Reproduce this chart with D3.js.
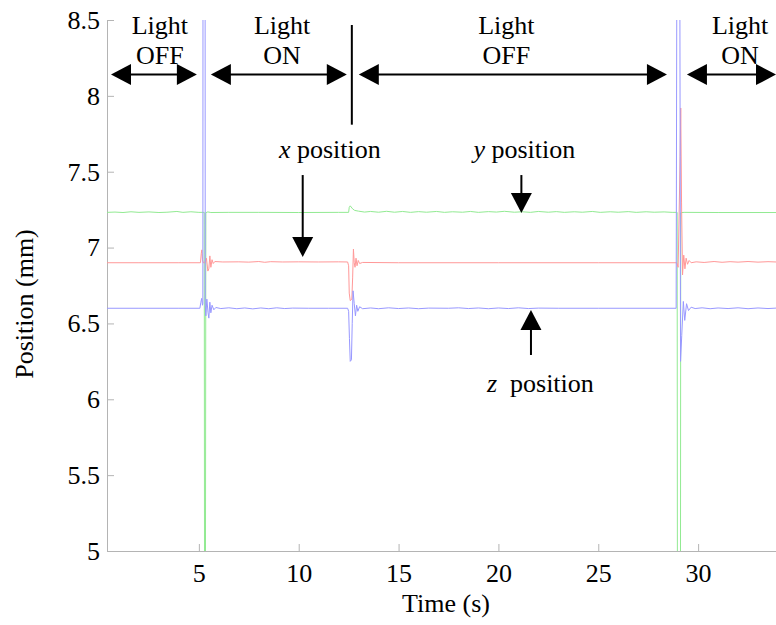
<!DOCTYPE html>
<html>
<head>
<meta charset="utf-8">
<script src="https://cdn.jsdelivr.net/npm/d3@7"></script>
<style>
    body { margin: 0; background: #fff; }
    svg text { font-family: "Liberation Serif", "Times New Roman", serif; fill: #000; }
</style>
</head>
<body>
<div id="chart"></div>
<script>
// readings: [time (s), position (mm)]
const xPosition = [
    [0.4, 6.900], [2.0, 6.900], [4.0, 6.900], [5.08, 6.900], [5.12, 6.96], [5.15, 6.985], [5.18, 6.92],
    [5.22, 6.90], [5.3, 6.90], [5.38, 6.93], [5.45, 6.845], [5.5, 6.86], [5.55, 6.945], [5.6, 6.87],
    [5.66, 6.92], [5.72, 6.895], [5.8, 6.908], [6.2, 6.905], [7.0, 6.906], [7.5, 6.904], [8.0, 6.908],
    [8.3, 6.903], [8.6, 6.907], [9.2, 6.905], [10.0, 6.906], [11.0, 6.905], [12.0, 6.906], [12.45, 6.905],
    [12.5, 6.88], [12.53, 6.70], [12.58, 6.65], [12.66, 6.66], [12.7, 6.80], [12.74, 6.99], [12.78, 6.90],
    [12.82, 6.87], [12.87, 6.93], [12.92, 6.88], [12.98, 6.915], [13.05, 6.895], [13.2, 6.902], [15.0, 6.900],
    [20.0, 6.900], [25.0, 6.900], [28.93, 6.900], [29.0, 6.87], [29.1, 7.6], [29.13, 7.92], [29.17, 7.3],
    [29.22, 6.82], [29.28, 6.95], [29.34, 6.86], [29.4, 6.93], [29.47, 6.89], [29.55, 6.915], [29.65, 6.90],
    [29.9, 6.906], [30.3, 6.902], [30.8, 6.908], [31.2, 6.903], [31.6, 6.907], [32.0, 6.904], [32.5, 6.908],
    [33.0, 6.904], [33.5, 6.907], [33.9, 6.905]
];

const yPosition = [
    [0.4, 7.232], [0.8, 7.234], [1.2, 7.231], [1.6, 7.236], [2.0, 7.232], [2.5, 7.235], [3.0, 7.231],
    [3.4, 7.233], [3.9, 7.238], [4.2, 7.232], [4.6, 7.236], [5.0, 7.232], [5.27, 7.232], [5.29, 3.5],
    [5.32, 3.5], [5.35, 7.23], [5.45, 7.235], [5.6, 7.231], [6.5, 7.232], [8.0, 7.232], [10.0, 7.231],
    [12.0, 7.232], [12.5, 7.232], [12.53, 7.265], [12.58, 7.275], [12.7, 7.255], [12.8, 7.245], [13.0, 7.24],
    [13.3, 7.234], [13.6, 7.238], [14.0, 7.233], [14.4, 7.239], [14.8, 7.233], [15.2, 7.238], [15.6, 7.232],
    [16.0, 7.237], [16.4, 7.233], [16.9, 7.238], [17.3, 7.232], [17.7, 7.236], [18.2, 7.233], [18.6, 7.238],
    [19.0, 7.232], [19.5, 7.237], [19.9, 7.234], [20.3, 7.239], [20.8, 7.233], [21.2, 7.236], [21.6, 7.232],
    [22.0, 7.238], [22.5, 7.233], [22.9, 7.237], [23.3, 7.232], [23.8, 7.236], [24.2, 7.233], [24.7, 7.238],
    [25.1, 7.232], [25.6, 7.236], [26.0, 7.233], [26.5, 7.237], [26.9, 7.232], [27.4, 7.236], [27.8, 7.233],
    [28.3, 7.235], [28.7, 7.232], [28.95, 7.232], [28.97, 3.5], [29.11, 3.5], [29.13, 7.23], [29.3, 7.232],
    [31.0, 7.231], [33.9, 7.231]
];

const zPosition = [
    [0.4, 6.600], [2.0, 6.600], [4.0, 6.600], [5.05, 6.600], [5.1, 6.64], [5.14, 6.665], [5.18, 6.62],
    [5.2, 6.63], [5.21, 9.8], [5.31, 9.8], [5.32, 6.62], [5.35, 6.55], [5.4, 6.66], [5.46, 6.57],
    [5.5, 6.535], [5.55, 6.64], [5.6, 6.57], [5.66, 6.62], [5.75, 6.59], [5.85, 6.605], [6.1, 6.598],
    [6.5, 6.603], [6.9, 6.597], [7.3, 6.602], [7.7, 6.596], [8.1, 6.602], [8.5, 6.597], [8.9, 6.603],
    [9.3, 6.598], [9.7, 6.601], [10.5, 6.600], [11.5, 6.600], [12.45, 6.600], [12.5, 6.58], [12.54, 6.40],
    [12.58, 6.25], [12.64, 6.26], [12.68, 6.5], [12.72, 6.715], [12.78, 6.63], [12.84, 6.55], [12.9, 6.62],
    [12.96, 6.58], [13.05, 6.61], [13.2, 6.597], [13.6, 6.602], [14.0, 6.597], [14.5, 6.603], [15.0, 6.598],
    [15.5, 6.602], [16.0, 6.597], [16.5, 6.601], [17.5, 6.600], [18.0, 6.603], [18.5, 6.598], [19.0, 6.602],
    [19.5, 6.597], [20.0, 6.602], [20.5, 6.598], [21.0, 6.603], [21.5, 6.598], [22.0, 6.601], [23.0, 6.600],
    [25.0, 6.600], [28.9, 6.600], [28.95, 9.8], [29.07, 9.8], [29.12, 6.25], [29.18, 6.42], [29.26, 6.645],
    [29.33, 6.52], [29.42, 6.63], [29.52, 6.585], [29.65, 6.607], [29.85, 6.598], [30.2, 6.603], [30.6, 6.597],
    [31.0, 6.602], [31.5, 6.598], [32.0, 6.603], [32.5, 6.597], [33.0, 6.602], [33.5, 6.598], [33.9, 6.601]
];

const xTicks = [5, 10, 15, 20, 25, 30];
const yTicks = [5, 5.5, 6, 6.5, 7, 7.5, 8, 8.5];

// light phases: arrow span in seconds, label centre
const lightPhases = [
    { state: "OFF", start: 0.6, end: 4.9, centre: 3.05 },
    { state: "ON", start: 5.6, end: 12.41, centre: 9.17 },
    { state: "OFF", start: 13.01, end: 28.44, centre: 20.4 },
    { state: "ON", start: 29.44, end: 33.9, centre: 32.1 }
];
const phaseArrowLevel = 8.14;
const switchTime = 12.66;
const switchRange = [7.81, 8.467];

// pointer arrows: label, time, from / to (mm)
const pointers = [
    { label: "x", text: " position", labelTime: 11.56, time: 10.2, from: 7.478, to: 6.938 },
    { label: "y", text: " position", labelTime: 21.3, time: 21.15, from: 7.478, to: 7.228 },
    { label: "z", text: "\u00a0 position", labelTime: 22.1, time: 21.63, from: 6.292, to: 6.588 }
];

class PositionChart {
    constructor(parentContainer) {
        this.parentContainer = parentContainer;
        this.initVis();
    }

    initVis() {
        let vis = this;

        vis.width = 776;
        vis.height = 625;
        vis.fontSize = 26;

        vis.svg = d3.select("#" + vis.parentContainer).append("svg")
            .attr("width", vis.width)
            .attr("height", vis.height);

        vis.x = d3.scaleLinear().domain([0.4, 33.9]).range([107, 776]);
        vis.y = d3.scaleLinear().domain([5, 8.5]).range([551, 20]);

        vis.svg.append("clipPath").attr("id", "plot-clip")
            .append("rect")
            .attr("x", vis.x.range()[0]).attr("y", vis.y.range()[1])
            .attr("width", vis.x.range()[1] - vis.x.range()[0])
            .attr("height", vis.y.range()[0] - vis.y.range()[1]);

        vis.drawAxes();
        vis.drawLines();
        vis.drawAnnotations();
    }

    drawAxes() {
        let vis = this;

        let xAxis = d3.axisBottom(vis.x).tickValues(xTicks)
            .tickSize(-7).tickSizeOuter(0).tickPadding(13);
        let yAxis = d3.axisLeft(vis.y).tickValues(yTicks)
            .tickSize(-7).tickSizeOuter(0).tickPadding(7)
            .tickFormat(d => String(d));

        let gx = vis.svg.append("g")
            .attr("transform", `translate(0,${vis.y.range()[0]})`)
            .call(xAxis);
        let gy = vis.svg.append("g")
            .attr("transform", `translate(${vis.x.range()[0]},0)`)
            .call(yAxis);

        [gx, gy].forEach(g => {
            g.select(".domain").attr("stroke", "#b4b4b4");
            g.selectAll(".tick line").attr("stroke", "#b4b4b4");
            g.selectAll(".tick text")
                .attr("font-family", null)
                .attr("font-size", vis.fontSize)
                .attr("fill", "#000");
        });

        vis.svg.append("text")
            .attr("x", 446).attr("y", 612)
            .attr("text-anchor", "middle")
            .attr("font-size", vis.fontSize)
            .text("Time (s)");

        vis.svg.append("text")
            .attr("transform", "translate(33,304) rotate(-90)")
            .attr("text-anchor", "middle")
            .attr("font-size", vis.fontSize)
            .text("Position (mm)");
    }

    drawLines() {
        let vis = this;

        let line = d3.line()
            .x(d => vis.x(d[0]))
            .y(d => vis.y(d[1]));

        let series = [
            { data: yPosition, color: "#92ea92" },
            { data: xPosition, color: "#ff9898" },
            { data: zPosition, color: "#9898ff" }
        ];

        vis.svg.append("g")
            .attr("clip-path", "url(#plot-clip)")
            .selectAll("path")
            .data(series)
            .enter().append("path")
            .attr("d", d => line(d.data))
            .attr("fill", "none")
            .attr("stroke", d => d.color)
            .attr("stroke-width", 1);
    }

    drawAnnotations() {
        let vis = this;
        let g = vis.svg.append("g");
        let headLen = 20, headHalf = 10.5;

        // light on / off double arrows
        let ay = vis.y(phaseArrowLevel);
        lightPhases.forEach(p => {
            let x0 = vis.x(p.start), x1 = vis.x(p.end);
            g.append("line")
                .attr("x1", x0 + headLen - 2).attr("x2", x1 - headLen + 2)
                .attr("y1", ay).attr("y2", ay)
                .attr("stroke", "#000").attr("stroke-width", 2);
            g.append("path")
                .attr("d", `M${x0},${ay}L${x0 + headLen},${ay - headHalf}L${x0 + headLen},${ay + headHalf}Z`)
                .attr("fill", "#000");
            g.append("path")
                .attr("d", `M${x1},${ay}L${x1 - headLen},${ay - headHalf}L${x1 - headLen},${ay + headHalf}Z`)
                .attr("fill", "#000");

            let cx = vis.x(p.centre);
            g.append("text").attr("x", cx).attr("y", ay - 41)
                .attr("text-anchor", "middle").attr("font-size", vis.fontSize)
                .text("Light");
            g.append("text").attr("x", cx).attr("y", ay - 11)
                .attr("text-anchor", "middle").attr("font-size", vis.fontSize)
                .text(p.state);
        });

        // switch marker
        g.append("line")
            .attr("x1", vis.x(switchTime)).attr("x2", vis.x(switchTime))
            .attr("y1", vis.y(switchRange[1])).attr("y2", vis.y(switchRange[0]))
            .attr("stroke", "#000").attr("stroke-width", 2);

        // pointers to each trace
        pointers.forEach(p => {
            let px = vis.x(p.time);
            let yFrom = vis.y(p.from), yTo = vis.y(p.to);
            let dir = yTo > yFrom ? 1 : -1;
            g.append("line")
                .attr("x1", px).attr("x2", px)
                .attr("y1", yFrom).attr("y2", yTo - dir * (headLen - 2))
                .attr("stroke", "#000").attr("stroke-width", 2);
            g.append("path")
                .attr("d", `M${px},${yTo}L${px - headHalf},${yTo - dir * headLen}L${px + headHalf},${yTo - dir * headLen}Z`)
                .attr("fill", "#000");

            let ty = dir > 0 ? yFrom - 17 : yFrom + 37;
            let t = g.append("text")
                .attr("x", vis.x(p.labelTime)).attr("y", ty)
                .attr("text-anchor", "middle")
                .attr("font-size", vis.fontSize);
            t.append("tspan").attr("font-style", "italic").text(p.label);
            t.append("tspan").text(p.text);
        });
    }
}

new PositionChart("chart");
</script>
</body>
</html>
